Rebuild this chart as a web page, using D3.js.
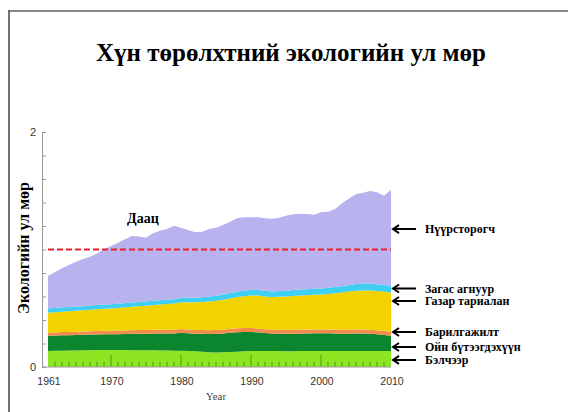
<!DOCTYPE html>
<html>
<head>
<meta charset="utf-8">
<script src="https://cdn.jsdelivr.net/npm/d3@7"></script>
<style>
	body { margin: 0; background: #fff; }
	svg { display: block; }
</style>
</head>
<body>
<div id="chart"></div>
<script>
var width = 568;
var height = 412;

// years 1961..2010
var years = d3.range(1961, 2011);

// global hectares per person (bottom -> top)
var grazing = [
	0.136, 0.138, 0.139, 0.140, 0.141, 0.142, 0.143, 0.144, 0.145, 0.145,
	0.144, 0.144, 0.143, 0.143, 0.142, 0.142, 0.141, 0.140, 0.139, 0.138,
	0.136, 0.133, 0.130, 0.126, 0.124, 0.125, 0.127, 0.130, 0.133, 0.136,
	0.137, 0.137, 0.136, 0.136, 0.135, 0.135, 0.136, 0.136, 0.137, 0.137,
	0.137, 0.137, 0.136, 0.136, 0.136, 0.137, 0.137, 0.136, 0.136, 0.136];
var forest = [
	0.130, 0.130, 0.131, 0.131, 0.132, 0.132, 0.133, 0.133, 0.133, 0.133,
	0.135, 0.137, 0.139, 0.140, 0.142, 0.143, 0.145, 0.146, 0.147, 0.154,
	0.152, 0.150, 0.152, 0.155, 0.157, 0.160, 0.164, 0.166, 0.165, 0.162,
	0.158, 0.152, 0.150, 0.148, 0.148, 0.149, 0.150, 0.150, 0.150, 0.150,
	0.150, 0.149, 0.148, 0.150, 0.150, 0.148, 0.146, 0.142, 0.136, 0.130];
var builtup = [
	0.026, 0.026, 0.027, 0.027, 0.028, 0.028, 0.029, 0.029, 0.030, 0.030,
	0.030, 0.030, 0.030, 0.031, 0.031, 0.031, 0.031, 0.032, 0.032, 0.032,
	0.032, 0.032, 0.032, 0.032, 0.033, 0.033, 0.033, 0.033, 0.033, 0.033,
	0.033, 0.033, 0.033, 0.033, 0.033, 0.033, 0.033, 0.033, 0.033, 0.033,
	0.033, 0.033, 0.034, 0.034, 0.034, 0.034, 0.034, 0.034, 0.034, 0.034];
var cropland = [
	0.170, 0.172, 0.174, 0.176, 0.178, 0.180, 0.182, 0.185, 0.187, 0.190,
	0.193, 0.197, 0.200, 0.203, 0.207, 0.210, 0.214, 0.218, 0.222, 0.227,
	0.231, 0.236, 0.240, 0.245, 0.250, 0.255, 0.260, 0.266, 0.272, 0.278,
	0.280, 0.278, 0.276, 0.280, 0.284, 0.288, 0.290, 0.292, 0.295, 0.298,
	0.302, 0.308, 0.315, 0.322, 0.330, 0.333, 0.334, 0.335, 0.336, 0.332];
var fishing = [
	0.038, 0.037, 0.037, 0.036, 0.036, 0.036, 0.036, 0.036, 0.036, 0.036,
	0.036, 0.037, 0.037, 0.037, 0.037, 0.037, 0.037, 0.037, 0.037, 0.037,
	0.038, 0.039, 0.040, 0.041, 0.042, 0.044, 0.045, 0.046, 0.047, 0.048,
	0.048, 0.048, 0.048, 0.049, 0.049, 0.050, 0.050, 0.050, 0.051, 0.051,
	0.052, 0.053, 0.054, 0.055, 0.056, 0.056, 0.057, 0.057, 0.057, 0.057];
var carbon = [
	0.277, 0.303, 0.332, 0.358, 0.381, 0.401, 0.416, 0.440, 0.469, 0.496,
	0.520, 0.542, 0.566, 0.556, 0.541, 0.575, 0.592, 0.601, 0.626, 0.598,
	0.577, 0.556, 0.558, 0.575, 0.580, 0.591, 0.608, 0.624, 0.624, 0.617,
	0.618, 0.617, 0.619, 0.624, 0.639, 0.645, 0.646, 0.641, 0.630, 0.647,
	0.648, 0.665, 0.706, 0.738, 0.764, 0.775, 0.790, 0.783, 0.759, 0.817];

var keys = ["grazing", "forest", "builtup", "cropland", "fishing", "carbon"];
var labels = ["Бэлчээр", "Ойн бүтээгдэхүүн", "Барилгажилт", "Газар тариалан", "Загас агнуур", "Нүүрсторөгч"];
var colors = ["#8ee521", "#0b862f", "#f58b4c", "#f2d300", "#40cff4", "#b8b2ee"];
// where each arrow points (y value)
var label_values = [0.060, 0.170, 0.298, 0.562, 0.668, 1.174];

var year_ticks = [1961, 1970, 1980, 1990, 2000, 2010];
var capacity = 1.0; // Даац

var table = years.map(function(yr, i) {
	return {year: yr, grazing: grazing[i], forest: forest[i], builtup: builtup[i],
		cropland: cropland[i], fishing: fishing[i], carbon: carbon[i]};
});

var x = d3.scaleLinear().domain([1961, 2010]).range([48, 391]);
var y = d3.scaleLinear().domain([0, 2]).range([367, 132]);

var svg = d3.select("#chart")
	.append("svg")
	.attr("width", width)
	.attr("height", height);

// frame
svg.append("line").attr("x1", 9).attr("y1", 11).attr("x2", 568).attr("y2", 11)
	.style("stroke", "#8a8a8a").style("stroke-width", 2);
svg.append("line").attr("x1", 9).attr("y1", 10).attr("x2", 9).attr("y2", 412)
	.style("stroke", "#444").style("stroke-width", 1.5);

// title
svg.append("text")
	.attr("x", 291).attr("y", 61)
	.attr("text-anchor", "middle")
	.style("font-family", "'Liberation Serif', 'DejaVu Serif', serif")
	.style("font-weight", "bold")
	.style("font-size", "25px")
	.text("Хүн төрөлхтний экологийн ул мөр");

var stack = d3.stack().keys(keys);
var layers = stack(table);

var area = d3.area()
	.x(function(d) { return x(d.data.year); })
	.y0(function(d) { return y(d[0]); })
	.y1(function(d) { return y(d[1]); });

svg.append("g").selectAll("path").data(layers)
	.enter().append("path")
	.attr("d", area)
	.style("fill", function(d, i) { return colors[i]; });

// year ticks inside the grazing band
var minor = d3.range(1962, 2010);
svg.append("g").selectAll("line").data(minor)
	.enter().append("line")
	.attr("x1", function(d) { return x(d); })
	.attr("x2", function(d) { return x(d); })
	.attr("y1", y(0))
	.attr("y2", function(d) { return d % 10 == 0 ? y(0) - 12 : y(0) - 5; })
	.style("stroke", "#4c9a1c")
	.style("stroke-width", 1);

// y axis
var yAxis = d3.axisRight(y).tickValues(d3.range(0, 2.01, 0.2)).tickSize(4).tickFormat("");
var gy = svg.append("g").attr("transform", "translate(42,0)").call(yAxis);
gy.select(".domain").style("stroke", "#999");
gy.selectAll(".tick line").style("stroke", "#999");

svg.append("g").selectAll("text").data([0, 2])
	.enter().append("text")
	.attr("x", 36).attr("y", function(d) { return y(d) + 4; })
	.attr("text-anchor", "end")
	.style("font-family", "'Liberation Sans', Arial, sans-serif")
	.style("font-size", "11px")
	.style("fill", "#333")
	.text(function(d) { return d; });

// baseline
svg.append("line").attr("x1", 42).attr("x2", x(2010)).attr("y1", y(0)).attr("y2", y(0))
	.style("stroke", "#999");

// x labels
svg.append("g").selectAll("text").data(year_ticks)
	.enter().append("text")
	.attr("x", function(d) { return x(d) + 1; })
	.attr("y", 385)
	.attr("text-anchor", "middle")
	.style("font-family", "'Liberation Sans', Arial, sans-serif")
	.style("font-size", "10.5px")
	.style("fill", "#333")
	.text(function(d) { return d; });

svg.append("text")
	.attr("x", 216).attr("y", 400)
	.attr("text-anchor", "middle")
	.style("font-family", "'Liberation Serif', serif")
	.style("font-size", "11px")
	.style("fill", "#444")
	.text("Year");

// y title
svg.append("text")
	.attr("transform", "translate(29,248) rotate(-90)")
	.attr("text-anchor", "middle")
	.style("font-family", "'Liberation Serif', serif")
	.style("font-weight", "bold")
	.style("font-size", "16px")
	.text("Экологийн ул мөр");

// capacity line
svg.append("line")
	.attr("x1", x(1961)).attr("x2", x(2010))
	.attr("y1", y(capacity)).attr("y2", y(capacity))
	.style("stroke", "#e8202a")
	.style("stroke-width", 2)
	.style("stroke-dasharray", "6,3");

svg.append("text")
	.attr("x", 127).attr("y", 223)
	.style("font-family", "'Liberation Serif', serif")
	.style("font-weight", "bold")
	.style("font-size", "14px")
	.text("Даац");

// arrows + labels on the right
var lab = svg.append("g").selectAll("g").data(labels)
	.enter().append("g")
	.attr("transform", function(d, i) {
		return "translate(0," + y(label_values[i]) + ")";
	});

lab.append("path")
	.attr("d", "M416,0 L393,0 M399,-4 L393,0 L399,4")
	.style("fill", "none")
	.style("stroke", "#000")
	.style("stroke-width", 2);

lab.append("text")
	.attr("x", 425).attr("y", 4)
	.style("font-family", "'Liberation Serif', serif")
	.style("font-weight", "bold")
	.style("font-size", "12px")
	.text(function(d) { return d; });
</script>
</body>
</html>
